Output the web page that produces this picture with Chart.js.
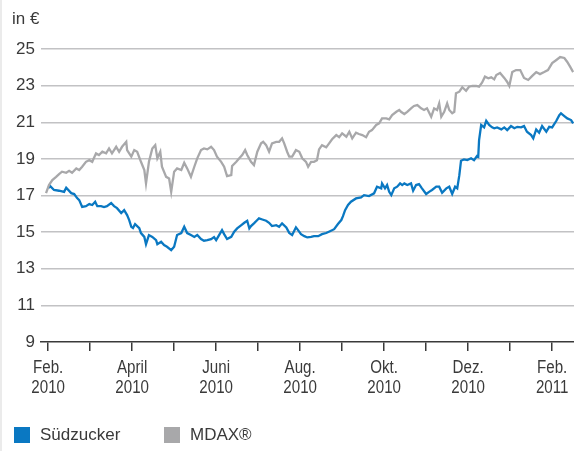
<!DOCTYPE html>
<html>
<head>
<meta charset="utf-8">
<script src="https://cdn.jsdelivr.net/npm/chart.js@4.4.1/dist/chart.umd.min.js"></script>
<style>
  html, body { margin: 0; padding: 0; background: #fff; }
  .wrap { position: relative; width: 574px; height: 451px; overflow: hidden; }
  .wrap::before { content: ''; position: absolute; left: 0; top: 0; bottom: 0; width: 2px; background: #ebebeb; }
  canvas { position: absolute; left: 0; top: 0; }
  .unit { position: absolute; left: 12px; top: 9px; font: 17px "Liberation Sans", Arial, sans-serif; color: #3a3a3a; }
  .legend { position: absolute; left: 14px; top: 425px; font: 17px "Liberation Sans", Arial, sans-serif; color: #3a3a3a; }
  .legend span.item { position: absolute; white-space: nowrap; line-height: 20px; }
  .legend i { position: absolute; top: 2px; width: 16px; height: 16px; }
</style>
</head>
<body>
<div class="wrap">
  <canvas id="chart" width="574" height="451"></canvas>
  <div class="unit">in €</div>
  <div class="legend">
    <span class="item" style="left:0"><i style="left:0;background:#0a78c2"></i><span style="margin-left:26px">Südzucker</span></span>
    <span class="item" style="left:150px"><i style="left:0;background:#a8a8aa"></i><span style="margin-left:26px">MDAX®</span></span>
  </div>
</div>
<script>
// x values: months since 1 Feb 2010
const sudzMonths = [0.00,0.05,0.14,0.26,0.38,0.43,0.55,0.62,0.69,0.74,0.81,0.90,0.98,1.05,1.12,1.17,1.26,1.33,1.40,1.50,1.57,1.64,1.74,1.81,1.88,1.93,1.98,2.02,2.07,2.17,2.21,2.29,2.33,2.40,2.48,2.57,2.60,2.69,2.76,2.83,2.93,3.00,3.07,3.17,3.24,3.31,3.40,3.48,3.55,3.64,3.71,3.79,3.88,3.95,4.00,4.07,4.14,4.19,4.26,4.36,4.43,4.50,4.60,4.67,4.74,4.79,4.83,4.90,4.98,5.02,5.10,5.19,5.26,5.33,5.43,5.50,5.57,5.67,5.74,5.81,5.90,5.95,6.02,6.10,6.17,6.26,6.33,6.43,6.52,6.62,6.71,6.81,6.90,6.98,7.02,7.07,7.14,7.21,7.33,7.45,7.52,7.64,7.76,7.83,7.93,7.95,8.02,8.07,8.12,8.17,8.24,8.31,8.38,8.43,8.48,8.55,8.64,8.69,8.76,8.83,8.90,9.00,9.07,9.14,9.24,9.31,9.38,9.48,9.55,9.62,9.69,9.74,9.79,9.83,9.90,9.98,10.07,10.14,10.21,10.24,10.26,10.31,10.38,10.43,10.50,10.57,10.62,10.69,10.79,10.86,10.93,11.02,11.10,11.17,11.26,11.33,11.40,11.50,11.55,11.62,11.69,11.76,11.86,11.93,12.00,12.10,12.17,12.21,12.29,12.36,12.45,12.50];
const sudzValues = [17.40,17.51,17.30,17.26,17.20,17.42,17.13,17.08,16.86,16.75,16.38,16.42,16.53,16.48,16.66,16.42,16.42,16.37,16.42,16.59,16.42,16.31,16.04,16.20,15.93,15.66,15.29,15.22,15.44,15.22,14.95,14.74,14.34,14.84,14.74,14.56,14.34,14.47,14.29,14.20,14.02,14.20,14.84,14.95,15.29,14.95,14.84,14.74,14.84,14.62,14.53,14.56,14.62,14.73,14.56,14.84,15.11,14.89,14.62,14.74,15.02,15.20,15.38,15.51,15.62,15.20,15.33,15.48,15.66,15.75,15.69,15.62,15.51,15.33,15.38,15.29,15.48,15.26,14.96,14.84,15.26,15.11,14.89,14.78,14.71,14.74,14.78,14.78,14.89,14.95,15.05,15.16,15.44,15.66,15.87,16.20,16.48,16.66,16.84,16.90,17.02,16.97,17.12,17.48,17.39,17.66,17.39,17.57,17.20,17.02,17.39,17.48,17.66,17.57,17.66,17.57,17.66,17.26,17.57,17.62,17.39,17.08,17.20,17.30,17.48,17.48,17.15,17.39,17.48,17.08,17.48,17.39,18.11,18.90,18.97,18.93,19.03,18.93,19.15,19.11,20.03,20.85,20.72,21.08,20.85,20.72,20.67,20.72,20.61,20.72,20.57,20.79,20.67,20.75,20.72,20.79,20.48,20.30,20.12,20.61,20.43,20.79,20.48,20.75,20.72,21.08,21.39,21.49,21.34,21.21,21.12,20.94];

const mdaxMonths = [-0.05,0.02,0.10,0.19,0.26,0.33,0.43,0.50,0.57,0.67,0.74,0.81,0.90,0.98,1.05,1.14,1.21,1.29,1.38,1.45,1.52,1.62,1.69,1.76,1.86,1.88,1.98,2.05,2.12,2.21,2.29,2.33,2.40,2.48,2.55,2.60,2.67,2.71,2.81,2.88,2.93,3.00,3.07,3.17,3.24,3.31,3.40,3.48,3.55,3.64,3.71,3.79,3.88,3.95,4.02,4.12,4.19,4.26,4.36,4.38,4.48,4.55,4.62,4.69,4.74,4.83,4.90,4.98,5.07,5.12,5.19,5.26,5.33,5.43,5.50,5.57,5.62,5.69,5.74,5.81,5.90,5.98,6.05,6.14,6.19,6.26,6.33,6.40,6.45,6.52,6.62,6.69,6.76,6.86,6.93,7.00,7.10,7.17,7.24,7.33,7.40,7.48,7.57,7.64,7.71,7.81,7.88,7.95,8.05,8.12,8.19,8.29,8.36,8.40,8.48,8.55,8.64,8.71,8.79,8.88,8.95,9.02,9.12,9.19,9.26,9.31,9.36,9.43,9.50,9.55,9.62,9.67,9.71,9.79,9.86,9.95,10.02,10.10,10.19,10.26,10.33,10.40,10.48,10.55,10.62,10.67,10.76,10.86,10.93,10.98,11.05,11.14,11.24,11.33,11.43,11.52,11.62,11.71,11.81,11.90,12.00,12.10,12.19,12.29,12.36,12.43,12.50];
const mdaxValues = [17.13,17.57,17.84,18.02,18.17,18.30,18.24,18.35,18.24,18.48,18.39,18.57,18.84,18.93,18.84,19.30,19.21,19.39,19.30,19.57,19.30,19.66,19.39,19.66,19.93,19.48,19.12,19.48,19.39,18.84,18.39,17.66,18.84,19.57,19.75,19.03,19.39,18.57,18.02,17.93,17.20,18.30,18.48,18.39,18.79,18.48,18.02,18.57,19.03,19.48,19.57,19.52,19.66,19.48,19.12,18.84,18.57,18.06,18.11,18.61,18.84,19.03,19.21,19.48,19.21,18.84,18.66,19.39,19.85,19.93,19.75,19.39,19.85,19.93,19.93,20.12,19.85,19.39,19.12,19.12,19.48,19.39,19.03,18.84,18.57,18.84,18.84,18.93,19.52,19.75,19.63,19.85,20.07,20.30,20.18,20.39,20.21,20.48,20.12,20.43,20.36,20.30,20.18,20.48,20.57,20.85,20.94,21.21,21.21,21.16,21.39,21.57,21.67,21.57,21.45,21.57,21.76,21.89,21.94,21.76,21.67,21.76,21.30,21.76,21.67,22.03,21.30,21.57,22.03,21.67,21.49,21.57,22.58,22.67,22.91,22.72,22.94,22.98,22.98,22.94,23.16,23.49,23.40,23.45,23.34,23.58,23.69,23.42,23.20,22.98,23.74,23.85,23.85,23.42,23.31,23.52,23.74,23.63,23.74,23.85,24.23,24.40,24.56,24.51,24.29,24.02,23.74];

const tickMonths = [0,1,2,3,4,5,6,7,8,9,10,11,12];
const tickLabels = [['Feb.','2010'],'',['April','2010'],'',['Juni','2010'],'',['Aug.','2010'],'',['Okt.','2010'],'',['Dez.','2010'],'',['Feb.','2011']];
const yTicks = [9,11,13,15,17,19,21,23,25];

const toPoints = (xs, ys) => xs.map((x, i) => ({ x: x, y: ys[i] }));

// the print font is condensed; draw the month labels squeezed horizontally
const narrowLabels = {
  id: 'narrowLabels',
  afterDraw(chart) {
    const scale = chart.scales.x;
    const ctx = chart.ctx;
    ctx.save();
    ctx.fillStyle = '#3a3a3a';
    ctx.font = '18px "Liberation Sans", Arial, sans-serif';
    ctx.textAlign = 'center';
    ctx.textBaseline = 'middle';
    tickMonths.forEach((m, i) => {
      const label = tickLabels[i];
      if (!label) return;
      const px = scale.getPixelForValue(m);
      label.forEach((line, j) => {
        ctx.save();
        ctx.translate(px, scale.top + 26 + j * 20);
        ctx.scale(0.84, 1);
        ctx.fillText(line, 0, 0);
        ctx.restore();
      });
    });
    ctx.restore();
  }
};

new Chart(document.getElementById('chart'), {
  type: 'line',
  data: {
    datasets: [
      {
        label: 'MDAX®',
        data: toPoints(mdaxMonths, mdaxValues),
        borderColor: '#a8a8aa',
        borderWidth: 2.3,
        pointRadius: 0,
        tension: 0
      },
      {
        label: 'Südzucker',
        data: toPoints(sudzMonths, sudzValues),
        borderColor: '#0a78c2',
        borderWidth: 2.3,
        pointRadius: 0,
        tension: 0
      }
    ]
  },
  options: {
    responsive: false,
    animation: false,
    layout: { padding: { top: 49, right: 0, bottom: 0, left: 0 } },
    plugins: { legend: { display: false }, tooltip: { enabled: false } },
    scales: {
      x: {
        type: 'linear',
        min: -0.17,
        max: 12.52,
        afterBuildTicks: (axis) => { axis.ticks = tickMonths.map(v => ({ value: v })); },
        afterFit: (scale) => { scale.height = 109; },
        border: { display: true, color: '#3a3a3a', width: 1.5 },
        grid: { drawOnChartArea: false, drawTicks: true, tickLength: 9, color: '#3a3a3a', lineWidth: 1.5 },
        ticks: { display: false }
      },
      y: {
        min: 9,
        max: 25,
        afterBuildTicks: (axis) => { axis.ticks = yTicks.map(v => ({ value: v })); },
        afterFit: (scale) => { scale.width = 41; },
        border: { display: false },
        grid: {
          drawTicks: false,
          lineWidth: 1.5,
          color: (ctx) => ctx.tick && ctx.tick.value === 9 ? 'rgba(0,0,0,0)' : '#c2c2c4'
        },
        ticks: {
          padding: 6,
          color: '#3a3a3a',
          font: { family: '"Liberation Sans", Arial, sans-serif', size: 17 }
        }
      }
    }
  },
  plugins: [narrowLabels]
});
</script>
</body>
</html>
